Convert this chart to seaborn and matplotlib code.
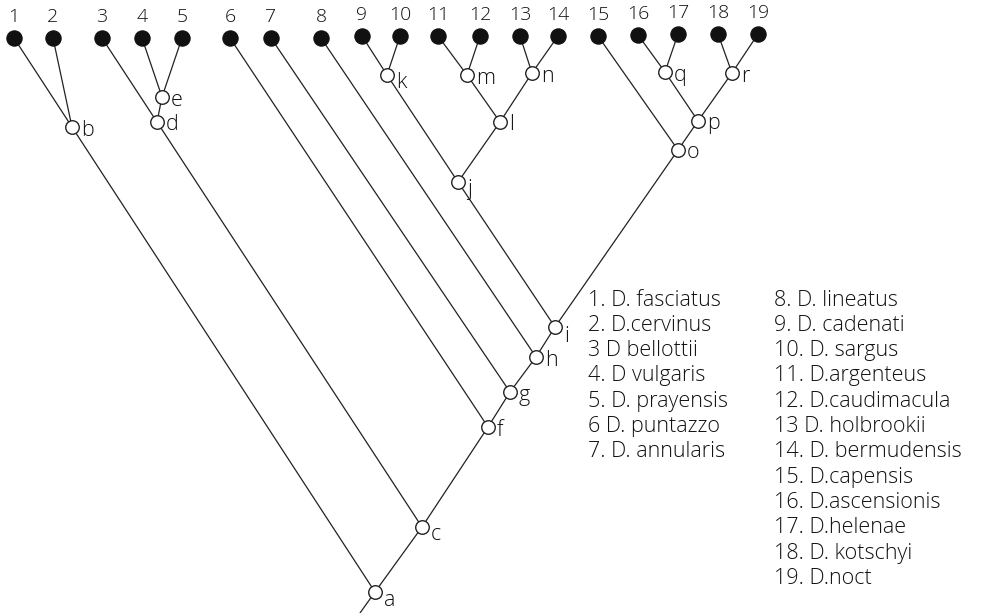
import numpy as np
import pandas as pd
import seaborn as sns
import matplotlib.pyplot as plt

sns.set_style("white")
plt.rcParams['font.family'] = ['Open Sans', 'DejaVu Sans']

# leaves (species 1-19), pixel positions
leaf_ids = [str(i) for i in range(1, 20)]
leaf_x = [14, 53, 102, 142, 182, 230, 271, 321, 362, 400, 438, 480, 520, 558, 598, 638, 678, 718, 758]
leaf_y = [38, 38, 38, 38, 38, 38, 38, 38, 36, 36, 36, 36, 36, 36, 36, 35, 34, 34, 34]

# internal nodes
node_ids = ['a', 'b', 'c', 'd', 'e', 'f', 'g', 'h', 'i', 'j', 'k', 'l', 'm', 'n', 'o', 'p', 'q', 'r']
node_x = [375, 72, 422, 157, 162, 488, 510, 536, 555, 458, 387, 500, 467, 532, 678, 698, 665, 732]
node_y = [592, 127, 527, 122, 97, 427, 392, 357, 327, 182, 75, 122, 75, 73, 150, 121, 72, 73]

# parent -> child
parents = ['a', 'a', 'b', 'b', 'c', 'c', 'd', 'd', 'e', 'e', 'f', 'f', 'g', 'g', 'h', 'h',
           'i', 'i', 'j', 'j', 'k', 'k', 'l', 'l', 'm', 'm', 'n', 'n', 'o', 'o', 'p', 'p',
           'q', 'q', 'r', 'r']
children = ['b', 'c', '1', '2', 'd', 'f', '3', 'e', '4', '5', '6', 'g', '7', 'h', '8', 'i',
            'j', 'o', 'k', 'l', '9', '10', 'm', 'n', '11', '12', '13', '14', '15', 'p', 'q', 'r',
            '16', '17', '18', '19']

# stub below the root
root_stub = (360, 613)

# species key, written as in the original (punctuation included)
key_nums = ['1.', '2.', '3', '4.', '5.', '6', '7.', '8.', '9.', '10.', '11.', '12.', '13',
            '14.', '15.', '16.', '17.', '18.', '19.']
species = ['D. fasciatus', 'D.cervinus', 'D bellottii', 'D vulgaris', 'D. prayensis',
           'D. puntazzo', 'D. annularis', 'D. lineatus', 'D. cadenati', 'D. sargus',
           'D.argenteus', 'D.caudimacula', 'D. holbrookii', 'D. bermudensis',
           'D.capensis', 'D.ascensionis', 'D.helenae', 'D. kotschyi', 'D.noct']

pos = {k: (x, y) for k, x, y in zip(leaf_ids, leaf_x, leaf_y)}
pos.update({k: (x, y) for k, x, y in zip(node_ids, node_x, node_y)})

rows = []
for n, (p, c) in enumerate(zip(parents, children)):
    rows.append({'edge': n, 'x': pos[p][0], 'y': pos[p][1]})
    rows.append({'edge': n, 'x': pos[c][0], 'y': pos[c][1]})
rows.append({'edge': 99, 'x': pos['a'][0], 'y': pos['a'][1]})
rows.append({'edge': 99, 'x': root_stub[0], 'y': root_stub[1]})
edges = pd.DataFrame(rows)

leaves = pd.DataFrame({'x': leaf_x, 'y': leaf_y, 'id': leaf_ids})
nodes = pd.DataFrame({'x': node_x, 'y': node_y, 'id': node_ids})

fig = plt.figure(figsize=(10.06, 6.13), dpi=100)
ax = fig.add_axes([0, 0, 1, 1])

sns.lineplot(data=edges, x='x', y='y', units='edge', estimator=None, sort=False,
             color='#222222', linewidth=0.9, ax=ax, legend=False)
sns.scatterplot(data=leaves, x='x', y='y', s=120, color='#111111', edgecolor='#111111',
                ax=ax, legend=False, zorder=3)
sns.scatterplot(data=nodes, x='x', y='y', s=95, color='white', edgecolor='#222222',
                linewidth=1.0, ax=ax, legend=False, zorder=3)

txt = dict(fontweight='light', color='#111111')

for lid, x, y in zip(leaf_ids, leaf_x, leaf_y):
    ax.text(x, y - 12, lid, ha='center', va='bottom', fontsize=14, **txt)

label_off = {'i': (9, 10), 'a': (9, 9), 'c': (9, 8), 'k': (9, 7), 'j': (9, 7)}
for nid, x, y in zip(node_ids, node_x, node_y):
    dx, dy = label_off.get(nid, (9, 3))
    ax.text(x + dx, y + dy, nid, ha='left', va='center', fontsize=15.5, **txt)

# species key in two columns
col1_x, col2_x = 588, 774
top_y, step_y = 300, 25.3
for i, (num, name) in enumerate(zip(key_nums, species)):
    if i < 7:
        x, y = col1_x, top_y + i * step_y
    else:
        x, y = col2_x, top_y + (i - 7) * step_y
    ax.text(x, y, f"{num} {name}", ha='left', va='center', fontsize=15.5, **txt)

ax.set_xlim(0, 1006)
ax.set_ylim(613, 0)
ax.set_axis_off()

fig.savefig('out.png', dpi=100)
